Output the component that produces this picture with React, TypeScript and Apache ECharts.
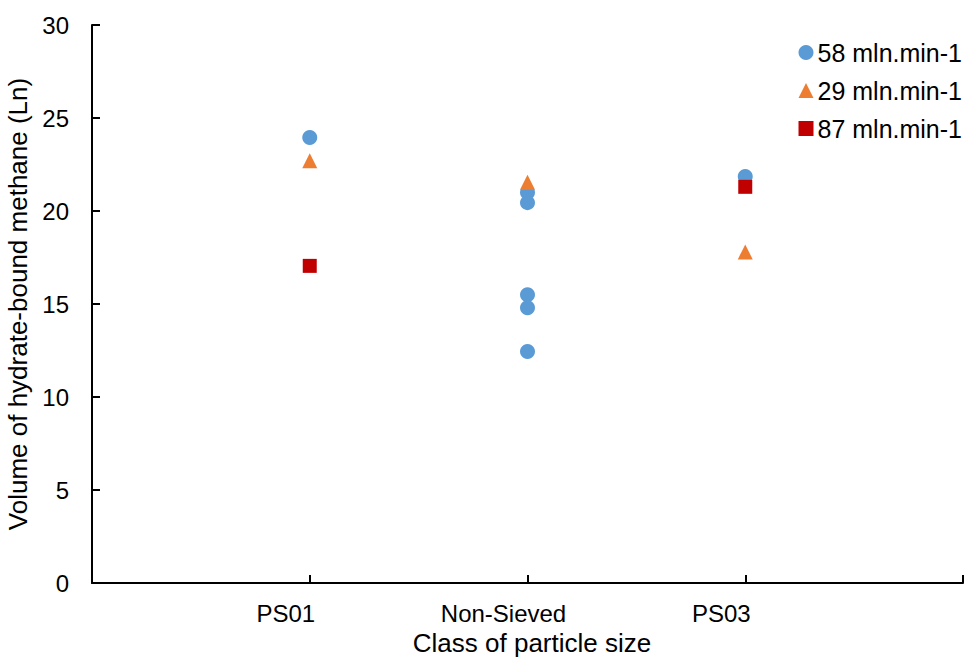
import React, { useEffect, useRef } from "react";
import * as echarts from "echarts";

const categories = ["PS01", "Non-Sieved", "PS03"];
const seriesNames = ["58 mln.min-1", "29 mln.min-1", "87 mln.min-1"];
// [category index, value]
const flow58: [number, number][] = [
  [0, 23.95],
  [1, 21.0],
  [1, 20.45],
  [1, 15.5],
  [1, 14.8],
  [1, 12.45],
  [2, 21.85],
];
const flow29: [number, number][] = [
  [0, 22.7],
  [1, 21.55],
  [2, 17.8],
];
const flow87: [number, number][] = [
  [0, 17.05],
  [2, 21.3],
];
const yTicks = { min: 0, max: 30, step: 5 };

const FONT = "Liberation Sans, Arial, sans-serif";

export default function App() {
  const ref = useRef<HTMLDivElement>(null);
  useEffect(() => {
    if (!ref.current) return;
    const chart = echarts.init(ref.current, undefined, { renderer: "svg" });
    const toXY = (d: [number, number][]) => d.map(([c, v]) => [c + 1, v]);
    chart.setOption({
      animation: false,
      backgroundColor: "#ffffff",
      textStyle: { fontFamily: FONT },
      grid: { left: 92, right: 4, top: 25, bottom: 74, containLabel: false, outerBoundsMode: "none" },
      legend: {
        orient: "vertical",
        right: 0,
        top: 35,
        itemWidth: 15,
        itemHeight: 15,
        itemGap: 13,
        textStyle: { fontSize: 25, color: "#000", fontFamily: FONT, padding: [0, 0, 0, -1] },
        data: [
          { name: seriesNames[0], icon: "circle" },
          { name: seriesNames[1], icon: "triangle" },
          { name: seriesNames[2], icon: "rect" },
        ],
      },
      xAxis: {
        type: "value",
        min: 0,
        max: categories.length + 1,
        interval: 1,
        name: "Class of particle size",
        nameLocation: "middle",
        nameGap: 44,
        nameTextStyle: { fontSize: 26, color: "#000", fontFamily: FONT, padding: [0, 0, 0, 9] },
        splitLine: { show: false },
        axisLine: { lineStyle: { color: "#000", width: 2 } },
        axisTick: { inside: true, length: 8, lineStyle: { color: "#000", width: 2 } },
        axisLabel: {
          fontSize: 24,
          color: "#000",
          margin: 18,
          fontFamily: FONT,
          padding: [0, 48, 0, 0],
          formatter: (v: number) => categories[v - 1] ?? "",
        },
      },
      yAxis: {
        type: "value",
        min: yTicks.min,
        max: yTicks.max,
        interval: yTicks.step,
        name: "Volume of hydrate-bound methane (Ln)",
        nameLocation: "middle",
        nameGap: 58,
        nameTextStyle: { fontSize: 26, color: "#000", fontFamily: FONT },
        splitLine: { show: false },
        axisLine: { show: true, lineStyle: { color: "#000", width: 2 } },
        axisTick: { show: true, inside: true, length: 8, lineStyle: { color: "#000", width: 2 } },
        axisLabel: { fontSize: 24, color: "#000", margin: 23, fontFamily: FONT },
      },
      series: [
        {
          name: seriesNames[0],
          type: "scatter",
          symbol: "circle",
          symbolSize: 15,
          itemStyle: { color: "#5B9BD5", opacity: 1 },
          data: toXY(flow58),
        },
        {
          name: seriesNames[1],
          type: "scatter",
          symbol: "triangle",
          symbolSize: 15,
          itemStyle: { color: "#ED7D31", opacity: 1 },
          data: toXY(flow29),
        },
        {
          name: seriesNames[2],
          type: "scatter",
          symbol: "rect",
          symbolSize: 14,
          itemStyle: { color: "#C00000", opacity: 1 },
          data: toXY(flow87),
        },
      ],
    });
    return () => chart.dispose();
  }, []);
  return <div ref={ref} style={{ width: 967, height: 657, position: "absolute", left: 0, top: 0 }} />;
}
